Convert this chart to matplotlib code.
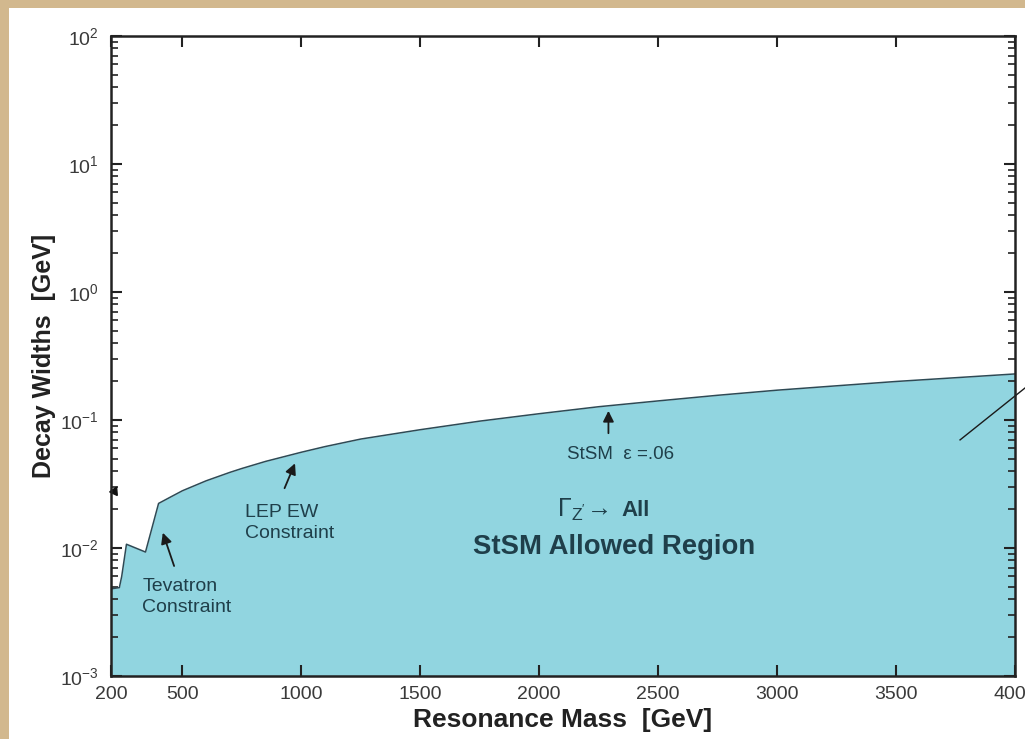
import matplotlib
matplotlib.use("Agg")
import matplotlib.pyplot as plt
from matplotlib.patches import Rectangle
from matplotlib.ticker import LogLocator, FixedLocator, NullFormatter

plt.rcParams['font.family'] = ['Liberation Sans', 'DejaVu Sans']
plt.rcParams['mathtext.fontset'] = 'custom'
plt.rcParams['mathtext.rm'] = 'Liberation Sans'
plt.rcParams['mathtext.it'] = 'Liberation Sans:italic'
plt.rcParams['mathtext.bf'] = 'Liberation Sans:bold'

# boundary of the allowed region
mass = [200, 235, 245, 265, 345, 400, 450, 500, 600, 700, 750, 850, 1000,
        1100, 1250, 1500, 1750, 2000, 2250, 2500, 2750, 3000, 3250, 3500,
        3750, 4000]
width = [0.0048, 0.0049, 0.0060, 0.0107, 0.0093, 0.0223, 0.0250, 0.0280,
         0.0335, 0.0390, 0.0418, 0.0475, 0.056, 0.062, 0.071, 0.084, 0.098,
         0.112, 0.127, 0.141, 0.156, 0.171, 0.185, 0.200, 0.214, 0.229]

x_ticks = [200, 500, 1000, 1500, 2000, 2500, 3000, 3500, 4000]
x_tick_labels = [str(t) for t in x_ticks]

FILL = '#91d5e0'
EDGE = '#2e4a55'
TXT = '#1f3f4a'

fig = plt.figure(figsize=(10.25, 7.39), dpi=100, facecolor='#d2b88e')
# white sheet on the parchment
fig.patches.append(Rectangle((9 / 1025, 0), 1, 1 - 8 / 739, transform=fig.transFigure,
                             facecolor='white', edgecolor='none', zorder=-10))

ax = fig.add_axes([111 / 1025, 1 - 676 / 739, 904 / 1025, 640 / 739])
ax.set_facecolor('white')
ax.set_yscale('log')
ax.set_xlim(200, 4000)
ax.set_ylim(1e-3, 1e2)

ax.fill_between(mass, 1e-3, width, color=FILL, linewidth=0, zorder=1)
ax.plot(mass, width, color=EDGE, lw=1.1, zorder=2)

ax.xaxis.set_major_locator(FixedLocator(x_ticks))
ax.set_xticklabels(x_tick_labels)
ax.yaxis.set_major_locator(LogLocator(base=10, numticks=10))
ax.yaxis.set_minor_locator(LogLocator(base=10, subs=range(2, 10), numticks=50))
ax.yaxis.set_minor_formatter(NullFormatter())
ax.tick_params(which='both', direction='in', top=True, right=True,
               colors='#222222', labelcolor='#3a3a3a')
ax.tick_params(which='major', length=8, width=1.5, labelsize=14)
ax.tick_params(which='minor', length=5, width=1.2)
ax.tick_params(axis='x', pad=7)
ax.tick_params(axis='y', pad=9)
for s in ax.spines.values():
    s.set_linewidth(1.8)
    s.set_color('#222222')

ax.set_xlabel('Resonance Mass  [GeV]', fontsize=19, fontweight='bold',
              color='#222222')
ax.xaxis.set_label_coords(0.5, -0.05)
ax.set_ylabel('Decay Widths  [GeV]', fontsize=18, fontweight='bold',
              color='#222222')
ax.yaxis.set_label_coords(-0.061, 0.5)

# annotations
arrow = dict(arrowstyle='-|>', color='#1a1a1a', lw=1.3, mutation_scale=16)
ax.text(763, 0.0157, 'LEP EW\nConstraint', fontsize=14, color=TXT,
        ha='left', va='center', linespacing=1.25)
ax.annotate('', xy=(978, 0.048), xytext=(925, 0.028), arrowprops=arrow)

ax.text(332, 0.00414, 'Tevatron\nConstraint', fontsize=14, color=TXT,
        ha='left', va='center', linespacing=1.25)
ax.annotate('', xy=(414, 0.0138), xytext=(469, 0.0069), arrowprops=arrow)

ax.text(2118, 0.0533, 'StSM  \u03b5 =.06', fontsize=13.5, color=TXT,
        ha='left', va='center')
ax.annotate('', xy=(2291, 0.124), xytext=(2291, 0.075), arrowprops=arrow)

ax.text(2075, 0.0198, r"$\Gamma_{\mathrm{Z}'}\!\rightarrow$", fontsize=18,
        color=TXT, ha='left', va='center')
ax.text(2344, 0.0198, 'All', fontsize=16, fontweight='bold', color=TXT,
        ha='left', va='center')
ax.text(1722, 0.0102, 'StSM Allowed Region', fontsize=19.8, fontweight='bold',
        color=TXT, ha='left', va='center')

# pointer line leaving the frame on the right
ax.plot([3769, 4189], [0.0699, 0.294], color='#1a1a1a', lw=1.0, clip_on=False)
# stray arrow head at the left frame
ax.plot([212], [0.028], marker=(3, 0, -25), ms=7, color='#111111', clip_on=False)

fig.savefig('out.png', dpi=100, facecolor=fig.get_facecolor())
plt.close(fig)
